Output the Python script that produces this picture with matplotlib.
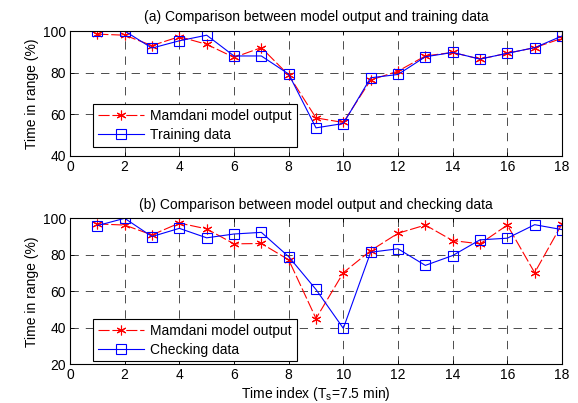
import matplotlib
matplotlib.use('Agg')
import matplotlib.pyplot as plt

plt.rcParams['font.family'] = ['Liberation Sans', 'DejaVu Sans']
plt.rcParams['font.size'] = 10
plt.rcParams['lines.scale_dashes'] = False

time_index = list(range(1, 19))

# (a) training
model_train = [98.5, 98, 93, 97.3, 93.6, 87.3, 92, 78.8, 58.2, 56,
               76.4, 80.7, 88, 89.7, 86.5, 89.3, 92, 96.5]
training_data = [100, 100, 91.8, 95.3, 98, 88, 88, 79.3, 53.4, 55.5,
                 77.5, 79.1, 87.6, 89.7, 86.5, 89.3, 92, 97.6]

# (b) checking
model_check = [96.9, 96.3, 90.9, 97.4, 94.2, 86, 86.2, 77.3, 45.1, 70.2,
               82.3, 91.8, 96.3, 87.8, 86, 96.3, 70.2, 96.9]
checking_data = [96, 100, 90, 94.5, 89.3, 91.4, 92.3, 79, 61, 39.7,
                 81.4, 83.3, 74.2, 79.6, 88.2, 89.1, 96.5, 93.8]

fig = plt.figure(figsize=(5.78, 4.03), dpi=100)
ax1 = fig.add_axes([0.1211, 0.6136, 0.8512, 0.3094])
ax2 = fig.add_axes([0.1211, 0.096, 0.8512, 0.3623])

asterisk = (6, 2, 0)


def style(ax, ylim, yticks):
    ax.set_xlim(0, 18)
    ax.set_ylim(*ylim)
    ax.set_xticks(range(0, 19, 2))
    ax.set_yticks(yticks)
    ax.grid(True, color='black', linestyle=(0, (6, 5)), linewidth=0.7, alpha=0.7)
    ax.tick_params(direction='in', length=3, width=0.6, top=True, right=True,
                   labelsize=10, pad=3)
    for s in ax.spines.values():
        s.set_linewidth(0.8)
    ax.set_ylabel('Time in range (%)', labelpad=3)


def legend(ax, y0):
    leg = ax.legend(loc='lower left', bbox_to_anchor=(0.047, y0), fancybox=False,
                    framealpha=1, edgecolor='black', borderpad=0.35, handlelength=3.3,
                    handletextpad=0.45, labelspacing=0.35, borderaxespad=0, fontsize=10)
    leg.get_frame().set_linewidth(0.8)


ax1.plot(time_index, model_train, color='red', linestyle=(0, (8, 2)), linewidth=0.8,
         marker=asterisk, markersize=7, markeredgewidth=0.8, label='Mamdani model output')
ax1.plot(time_index, training_data, color='blue', linestyle='-', linewidth=0.8,
         marker='s', markersize=7, markerfacecolor='none', markeredgewidth=0.8,
         label='Training data')
style(ax1, (40, 100), [40, 60, 80, 100])
ax1.set_title('(a) Comparison between model output and training data', fontsize=10, pad=7)
legend(ax1, 0.07)

ax2.plot(time_index, model_check, color='red', linestyle=(0, (8, 2)), linewidth=0.8,
         marker=asterisk, markersize=7, markeredgewidth=0.8, label='Mamdani model output')
ax2.plot(time_index, checking_data, color='blue', linestyle='-', linewidth=0.8,
         marker='s', markersize=7, markerfacecolor='none', markeredgewidth=0.8,
         label='Checking data')
style(ax2, (20, 100), [20, 40, 60, 80, 100])
ax2.set_title('(b) Comparison between model output and checking data', fontsize=10, pad=7)
ax2.set_xlabel('Time index (T$_\\mathregular{s}$=7.5 min)', labelpad=2)
legend(ax2, 0.02)

fig.savefig('out.png', dpi=100)
